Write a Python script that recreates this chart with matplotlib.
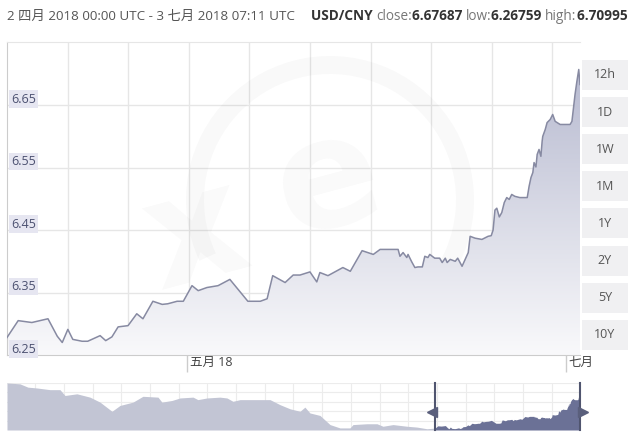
import numpy as np
import matplotlib
matplotlib.use('Agg')
import matplotlib.pyplot as plt
import matplotlib.transforms as mtransforms
from matplotlib.patches import Rectangle, Polygon, Arc
from matplotlib.colors import LinearSegmentedColormap

plt.rcParams['font.family'] = ['Open Sans', 'Noto Sans CJK SC', 'DejaVu Sans']

# USD/CNY, days since 2 Apr 2018 00:00 UTC
days = [0.0, 1.8, 4.0, 6.6, 8.1, 8.9, 9.8, 10.6, 12.1, 13.0, 15.0, 15.9, 16.9,
        17.9, 19.5, 20.9, 21.9, 23.5, 25.0, 25.9, 27.4, 28.4, 29.8, 30.8, 32.2,
        34.0, 35.9, 38.8, 40.8, 41.9, 42.8, 44.8, 46.1, 47.2, 48.8, 49.9, 50.4,
        51.7, 54.1, 55.3, 57.2, 59.0, 60.1, 63.0, 63.3, 63.8, 64.4, 64.6, 65.2,
        65.7, 66.2, 66.9, 67.3, 67.8, 68.1, 68.9, 69.7, 70.1, 70.6, 70.9, 71.4,
        72.2, 72.6, 73.3, 73.8, 74.3, 74.6, 75.4, 76.5, 77.5, 78.0, 78.3, 78.6,
        78.9, 79.3, 79.7, 80.1, 80.5, 80.9, 81.3, 81.8, 82.6, 83.8, 84.1, 84.4,
        84.7, 84.9, 85.2, 85.4, 85.7, 86.0, 86.2, 86.3, 86.7, 87.0, 87.5, 87.9,
        88.3, 89.1, 90.7, 91.0, 91.5, 91.8, 92.1, 92.3]
rates = [6.278, 6.305, 6.302, 6.308, 6.280, 6.270, 6.291, 6.275, 6.272, 6.272,
         6.281, 6.273, 6.279, 6.295, 6.297, 6.316, 6.308, 6.336, 6.331, 6.332,
         6.336, 6.336, 6.361, 6.353, 6.358, 6.361, 6.371, 6.336, 6.336, 6.340,
         6.377, 6.366, 6.378, 6.378, 6.383, 6.367, 6.382, 6.377, 6.390, 6.384,
         6.417, 6.411, 6.419, 6.419, 6.408, 6.414, 6.406, 6.411, 6.399, 6.390,
         6.391, 6.391, 6.408, 6.406, 6.411, 6.405, 6.405, 6.398, 6.405, 6.398,
         6.403, 6.400, 6.405, 6.392, 6.403, 6.414, 6.440, 6.437, 6.435, 6.440,
         6.441, 6.450, 6.482, 6.485, 6.471, 6.478, 6.494, 6.502, 6.499, 6.507,
         6.504, 6.502, 6.502, 6.520, 6.534, 6.542, 6.558, 6.551, 6.571, 6.579,
         6.568, 6.592, 6.600, 6.611, 6.622, 6.627, 6.635, 6.624, 6.619, 6.619,
         6.624, 6.667, 6.688, 6.707, 6.683]

# navigator: the year before the selected range
hist_days = [-272.4, -264.2, -259.1, -253.3, -245.1, -238.7, -235.5, -227.9,
             -219.6, -213.2, -205.6, -200.5, -192.2, -185.9, -176.3, -173.8,
             -167.4, -162.3, -154.0, -150.9, -145.1, -136.9, -132.4, -128.6,
             -124.1, -105.0, -98.7, -92.3, -85.9, -82.8, -79.6, -73.2, -66.8,
             -60.5, -54.1, -52.2, -43.3, -36.9, -33.1, -26.7, -17.8, -11.5, -5.1]
hist_rates = [6.82, 6.81, 6.77, 6.76, 6.74, 6.74, 6.67, 6.69, 6.65, 6.59, 6.48,
              6.55, 6.59, 6.66, 6.65, 6.59, 6.61, 6.64, 6.65, 6.62, 6.64, 6.65,
              6.64, 6.60, 6.62, 6.62, 6.56, 6.51, 6.48, 6.53, 6.46, 6.43, 6.32,
              6.28, 6.28, 6.32, 6.33, 6.33, 6.30, 6.32, 6.30, 6.29, 6.27]

y_ticks = [6.25, 6.35, 6.45, 6.55, 6.65]
x_ticks = [29, 90]
x_tick_labels = ['五月 18', '七月']
ranges = ['12h', '1D', '1W', '1M', '1Y', '2Y', '5Y', '10Y']
header = '2 四月 2018 00:00 UTC - 3 七月 2018 07:11 UTC'
pair = 'USD/CNY'
stats = [('close:', '6.67687'), ('low:', '6.26759'), ('high:', '6.70995')]

W, H = 640, 444


def fx(x):
    return x / W


def fy(y):
    return 1 - y / H


fig = plt.figure(figsize=(6.4, 4.44), dpi=100)
fig.patch.set_facecolor('white')

# ---- main chart
ax = fig.add_axes([fx(7), fy(355), (580 - 7) / W, (355 - 42) / H])
x0, x1 = 0, 92.3
y0, y1 = 6.25, 6.751

for gx in np.arange(1, 10) * 9.76:
    ax.axvline(gx, color='#e6e6e6', lw=1, zorder=0)
for gy in y_ticks[1:]:
    ax.axhline(gy, color='#e6e6e6', lw=1, zorder=0)

# faint xe watermark
ring = Arc((330, H - 200), 270, 270, theta1=-75, theta2=205, lw=13,
           color='#000000', alpha=0.022, transform=mtransforms.IdentityTransform())
ax.add_artist(ring)
ax.text(0.33, 0.38, 'x', transform=ax.transAxes, fontsize=110, weight='bold',
        color='#000000', alpha=0.025, ha='center', va='center', rotation=15,
        family='DejaVu Sans', zorder=0.5)
ax.text(0.56, 0.55, 'e', transform=ax.transAxes, fontsize=110, weight='bold',
        color='#000000', alpha=0.025, ha='center', va='center', rotation=15,
        family='DejaVu Sans', zorder=0.5)

grad = np.linspace(0, 1, 256).reshape(-1, 1)
cmap = LinearSegmentedColormap.from_list('fill', ['#f9f9fb', '#b7bad0'])
im = ax.imshow(grad, extent=[x0, x1, y0, 6.71], origin='lower', aspect='auto',
               cmap=cmap, zorder=1)
verts = list(zip(days, rates)) + [(days[-1], y0), (days[0], y0)]
clip = Polygon(verts, closed=True, facecolor='none', edgecolor='none')
ax.add_patch(clip)
im.set_clip_path(clip)

ax.plot(days, rates, color='#878aa2', lw=1.1, zorder=3)

ax.set_xlim(x0, x1)
ax.set_ylim(y0, y1)
ax.set_yticks([])
ax.spines['right'].set_visible(False)
ax.spines['top'].set_color('#e6e6e6')
ax.spines['left'].set_color('#cccccc')
ax.spines['bottom'].set_color('#cccccc')

for v in y_ticks:
    ax.text(0.007, v + 0.004, f'{v:.2f}', transform=ax.get_yaxis_transform(),
            fontsize=9, color='#4b5070', va='baseline', ha='left', zorder=5,
            bbox=dict(facecolor='#e6e6f1', edgecolor='none', pad=1.5))

ax.set_xticks(x_ticks, x_tick_labels)
ax.tick_params(axis='x', length=12, width=1, color='#cccccc', labelsize=9,
               labelcolor='#444444', pad=-11)
offset = mtransforms.ScaledTranslation(3 / 100, 0, fig.dpi_scale_trans)
for lbl in ax.get_xticklabels():
    lbl.set_ha('left')
    lbl.set_va('top')
    lbl.set_transform(lbl.get_transform() + offset)

# ---- range buttons
for i, name in enumerate(ranges):
    cy = 75 + i * 37.1
    fig.add_artist(Rectangle((fx(582), fy(cy + 15)), 46 / W, 30 / H,
                             transform=fig.transFigure, facecolor='#f0f0f2',
                             edgecolor='none'))
    fig.text(fx(605), fy(cy), name, ha='center', va='center', fontsize=9,
             color='#555555')

# ---- navigator
nav = fig.add_axes([fx(7), fy(430), (580 - 7) / W, (430 - 383) / H])
nav.set_xlim(-272.4, 92.3)
nav.set_ylim(6.255, 6.82)
for gx in np.arange(-181.4 - 18.27 * 8, 92, 18.27):
    nav.axvline(gx, color='#ececec', lw=0.8, zorder=0)
for gy in np.linspace(6.366, 6.82, 5):
    nav.axhline(gy, color='#ececec', lw=0.8, zorder=0)
nav.fill_between(hist_days + days[:1], hist_rates + rates[:1], 6.255,
                 color='#c2c5d4', lw=0, zorder=1)
nav.fill_between(days, rates, 6.255, color='#6b7196', lw=0, zorder=2)
for xs, mk, dx in [(0, '<', -2.2), (92.3, '>', 2.2)]:
    nav.axvline(xs, color='#50556f', lw=1.5, zorder=3, clip_on=False)
    nav.plot([xs + dx], [6.47], marker=mk, ms=7, color='#5a5f7c', zorder=3,
             clip_on=False)
nav.set_xticks([])
nav.set_yticks([])
for s in nav.spines.values():
    s.set_visible(False)

# ---- header
fig.text(fx(7), fy(16), header, fontsize=9.6, color='#555555', va='center')
fig.canvas.draw()
r = fig.canvas.get_renderer()
parts = [(pair + ' ', 'bold', '#333333')]
for lab, val in stats:
    parts.append((lab, 'normal', '#777777'))
    parts.append((val + ' ', 'bold', '#333333'))
x = 311
for txt, wgt, col in parts:
    t = fig.text(fx(x), fy(16), txt, fontsize=9.8, weight=wgt, color=col,
                 va='center')
    bb = t.get_window_extent(renderer=r)
    x += bb.width

fig.savefig('out.png', dpi=100)
